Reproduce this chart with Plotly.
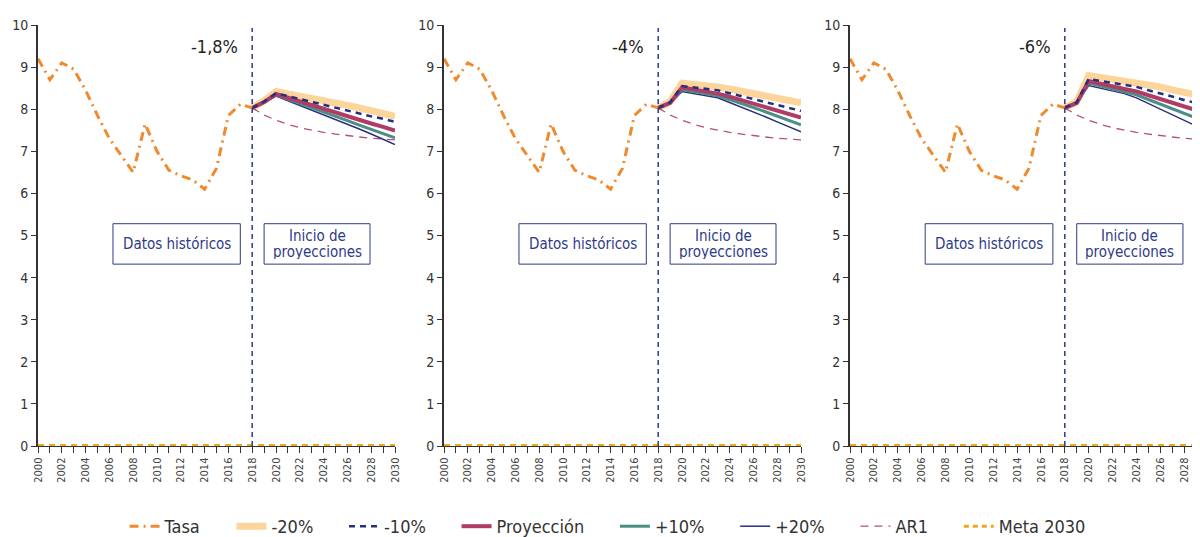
import plotly.graph_objects as go

# ---------------- data ----------------
years_hist = list(range(2000, 2019))
tasa = [9.2, 8.7, 9.1, 8.95, 8.45, 7.85, 7.3, 6.9, 6.5, 7.65, 7.0, 6.55, 6.42, 6.32, 6.1, 6.6, 7.85, 8.12, 8.03]

years_proj = list(range(2018, 2031))
years_all = list(range(2000, 2031))
meta_2030 = [0] * len(years_all)

ar1 = [8.03, 7.86, 7.74, 7.64, 7.56, 7.5, 7.45, 7.41, 7.37, 7.34, 7.31, 7.29, 7.27]

# panel 1 (-1,8%)
p1_m20 = [8.03, 8.2, 8.42, 8.37, 8.33, 8.27, 8.21, 8.15, 8.09, 8.03, 7.96, 7.9, 7.83]
p1_m10 = [8.03, 8.18, 8.38, 8.31, 8.24, 8.17, 8.1, 8.03, 7.97, 7.9, 7.83, 7.77, 7.7]
p1_proy = [8.03, 8.17, 8.36, 8.27, 8.18, 8.09, 8.0, 7.92, 7.83, 7.75, 7.66, 7.58, 7.49]
p1_p10 = [8.03, 8.16, 8.34, 8.24, 8.13, 8.03, 7.93, 7.83, 7.73, 7.62, 7.52, 7.42, 7.32]
p1_p20 = [8.03, 8.15, 8.31, 8.2, 8.09, 7.97, 7.86, 7.75, 7.64, 7.53, 7.41, 7.29, 7.16]

# panel 2 (-4%)
p2_m20 = [8.03, 8.18, 8.62, 8.6, 8.57, 8.53, 8.48, 8.43, 8.37, 8.32, 8.26, 8.21, 8.15]
p2_m10 = [8.03, 8.16, 8.55, 8.52, 8.49, 8.45, 8.38, 8.31, 8.24, 8.17, 8.1, 8.03, 7.96]
p2_proy = [8.03, 8.15, 8.52, 8.47, 8.43, 8.37, 8.3, 8.22, 8.14, 8.05, 7.97, 7.88, 7.8]
p2_p10 = [8.03, 8.14, 8.47, 8.42, 8.37, 8.32, 8.23, 8.14, 8.04, 7.94, 7.84, 7.73, 7.63]
p2_p20 = [8.03, 8.13, 8.42, 8.37, 8.32, 8.27, 8.16, 8.05, 7.93, 7.82, 7.7, 7.58, 7.46]

# panel 3 (-6%)
p3_m20 = [8.03, 8.18, 8.8, 8.76, 8.72, 8.68, 8.65, 8.59, 8.53, 8.46, 8.4, 8.34, 8.28]
p3_m10 = [8.03, 8.16, 8.72, 8.67, 8.63, 8.58, 8.53, 8.45, 8.38, 8.3, 8.22, 8.15, 8.07]
p3_proy = [8.03, 8.15, 8.67, 8.6, 8.54, 8.48, 8.42, 8.33, 8.24, 8.16, 8.07, 7.98, 7.89]
p3_p10 = [8.03, 8.14, 8.62, 8.55, 8.48, 8.41, 8.34, 8.23, 8.12, 8.01, 7.9, 7.79, 7.68]
p3_p20 = [8.03, 8.13, 8.56, 8.5, 8.44, 8.37, 8.27, 8.14, 8.0, 7.87, 7.73, 7.6, 7.47]

panel_labels = ["-1,8%", "-4%", "-6%"]
panels = [
    (p1_m20, p1_m10, p1_proy, p1_p10, p1_p20),
    (p2_m20, p2_m10, p2_proy, p2_p10, p2_p20),
    (p3_m20, p3_m10, p3_proy, p3_p10, p3_p20),
]

# ---------------- styling ----------------
FONT = "DejaVu Sans Condensed, Liberation Sans Narrow, sans-serif"
C_TASA = "#ef8a2e"
C_M20 = "#fcd59b"
C_M10 = "#233080"
C_PROY = "#b03c66"
C_P10 = "#4b8e85"
C_P20 = "#26307c"
C_AR1 = "#b4507a"
C_META = "#f2a818"
C_NAVY = "#2e3a88"
PAD = "\u00a0" * 5

W, H = 1200, 537
ML, MR, MT, MB = 30, 0, 17, 98
pw = W - ML - MR
domains = [
    (0.0, 357 / pw),
    (406 / pw, 763 / pw),
    (812 / pw, 1.0),
]
xranges = [[2000, 2030], [2000, 2030], [2000, 2030]]

fig = go.Figure()

for i, (m20, m10, proy, p10, p20) in enumerate(panels):
    xa = "x" if i == 0 else f"x{i+1}"
    ya = "y" if i == 0 else f"y{i+1}"
    show = i == 0
    fig.add_trace(go.Scatter(x=years_all, y=meta_2030, mode="lines", name="Meta 2030",
                             line=dict(color=C_META, width=4, dash="6px,5px"),
                             xaxis=xa, yaxis=ya, showlegend=False, legendrank=8))
    fig.add_trace(go.Scatter(x=years_proj, y=m20, mode="lines", name="-20%" + PAD,
                             line=dict(color=C_M20, width=7), xaxis=xa, yaxis=ya,
                             showlegend=show, legendrank=2))
    fig.add_trace(go.Scatter(x=years_proj, y=ar1, mode="lines", name="AR1" + PAD,
                             line=dict(color=C_AR1, width=1.3, dash="8px,6px"), xaxis=xa, yaxis=ya,
                             showlegend=show, legendrank=7))
    fig.add_trace(go.Scatter(x=years_proj, y=p20, mode="lines", name="+20%" + PAD,
                             line=dict(color=C_P20, width=1.5), xaxis=xa, yaxis=ya,
                             showlegend=show, legendrank=6))
    fig.add_trace(go.Scatter(x=years_proj, y=p10, mode="lines", name="+10%" + PAD,
                             line=dict(color=C_P10, width=3), xaxis=xa, yaxis=ya,
                             showlegend=show, legendrank=5))
    fig.add_trace(go.Scatter(x=years_proj, y=proy, mode="lines", name="Proyección" + PAD,
                             line=dict(color=C_PROY, width=4), xaxis=xa, yaxis=ya,
                             showlegend=show, legendrank=4))
    fig.add_trace(go.Scatter(x=years_proj, y=m10, mode="lines", name="-10%" + PAD,
                             line=dict(color=C_M10, width=2.5, dash="6px,5px"), xaxis=xa, yaxis=ya,
                             showlegend=show, legendrank=3))
    fig.add_trace(go.Scatter(x=years_hist, y=tasa, mode="lines", name="Tasa" + PAD,
                             line=dict(color=C_TASA, width=3, dash="9px,5px,2px,5px"), xaxis=xa, yaxis=ya,
                             showlegend=show, legendrank=1))
    if show:
        fig.add_trace(go.Scatter(x=[None], y=[None], mode="lines", name="Meta 2030",
                                 line=dict(color=C_META, width=3, dash="5px,4px"),
                                 xaxis=xa, yaxis=ya, showlegend=True, legendrank=8))

    # axes
    xkey = "xaxis" if i == 0 else f"xaxis{i+1}"
    ykey = "yaxis" if i == 0 else f"yaxis{i+1}"
    fig.layout[xkey] = dict(
        domain=list(domains[i]), range=xranges[i], anchor=ya, automargin=False,
        tickmode="linear", tick0=2000, dtick=2, tickangle=-90,
        ticks="outside", ticklen=6, tickwidth=1.3, tickcolor="#333",
        showline=True, linecolor="#333", linewidth=1.3, showgrid=False, zeroline=False,
        tickfont=dict(family=FONT, size=11, color="#444"),
        minor=dict(dtick=1, tick0=2000, ticks="outside", ticklen=6, tickwidth=1.3, tickcolor="#333"),
    )
    fig.layout[ykey] = dict(
        domain=[0, 1], range=[0, 10], anchor=xa, automargin=False,
        tickmode="linear", tick0=0, dtick=1,
        ticks="outside", ticklen=5, tickwidth=1.3, tickcolor="#333",
        showline=True, linecolor="#333", linewidth=2, showgrid=False, zeroline=False,
        tickfont=dict(family=FONT, size=14, color="#333"),
    )

    xref = "x" if i == 0 else f"x{i+1}"
    yref = "y" if i == 0 else f"y{i+1}"
    # vertical dashed line at 2018
    fig.add_shape(type="line", xref=xref, yref=yref, x0=2018, x1=2018, y0=0, y1=9.93,
                  line=dict(color=C_NAVY, width=1.5, dash="5px,4px"))
    # boxes
    fig.add_shape(type="rect", xref=xref, yref=yref, x0=2006.3, x1=2017.0, y0=4.32, y1=5.28,
                  line=dict(color=C_NAVY, width=1), fillcolor="white")
    fig.add_shape(type="rect", xref=xref, yref=yref, x0=2019.0, x1=2027.9, y0=4.32, y1=5.28,
                  line=dict(color=C_NAVY, width=1), fillcolor="white")
    fig.add_annotation(xref=xref, yref=yref, x=2011.65, y=4.79, text="Datos históricos",
                       showarrow=False, font=dict(family=FONT, size=15, color=C_NAVY))
    fig.add_annotation(xref=xref, yref=yref, x=2023.45, y=5.0, text="Inicio de", height=15,
                       showarrow=False, font=dict(family=FONT, size=15, color=C_NAVY))
    fig.add_annotation(xref=xref, yref=yref, x=2023.45, y=4.62, text="proyecciones", height=15,
                       showarrow=False, font=dict(family=FONT, size=15, color=C_NAVY))
    fig.add_annotation(xref=xref, yref=yref, x=2017.0, y=9.5, text=panel_labels[i],
                       xanchor="right", showarrow=False,
                       font=dict(family=FONT, size=18, color="#222"))

fig.update_layout(
    width=W, height=H,
    margin=dict(l=ML, r=MR, t=MT, b=MB),
    paper_bgcolor="white", plot_bgcolor="white",
    showlegend=True,
    legend=dict(orientation="h", x=0.4868, xanchor="center", y=-0.19, yanchor="middle",
                font=dict(family=FONT, size=18, color="#333"), traceorder="normal",
                itemwidth=30),
)

fig.write_html("out.html")
